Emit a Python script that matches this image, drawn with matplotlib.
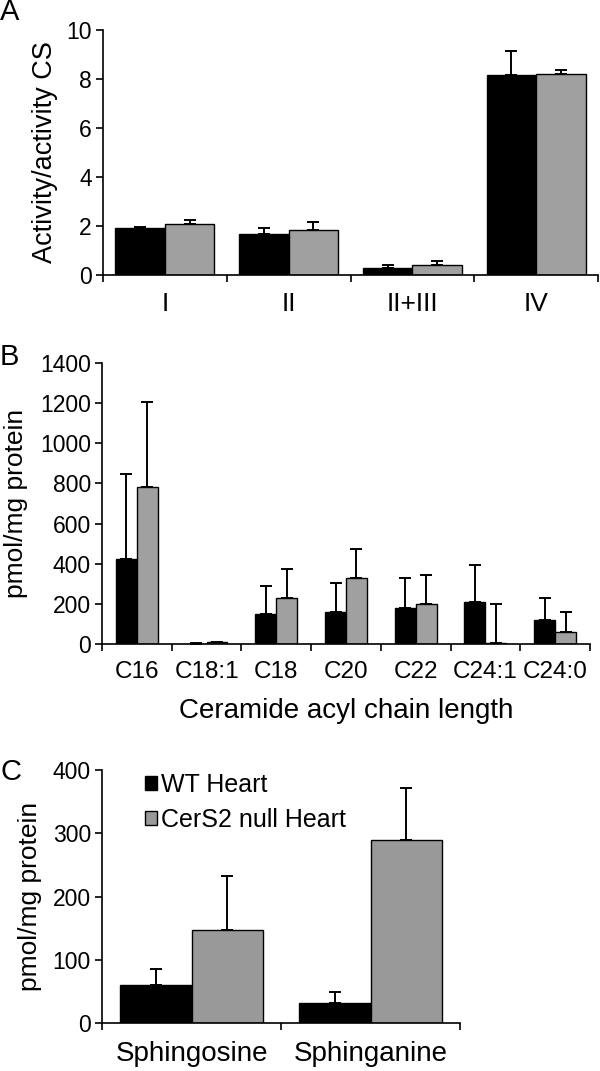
import matplotlib
matplotlib.use("Agg")
import matplotlib.pyplot as plt
from matplotlib.patches import Patch
import numpy as np

plt.rcParams['font.family'] = ['Liberation Sans', 'DejaVu Sans']

# ── Panel A: complex activity relative to citrate synthase ──
a_cats = ['I', 'II', 'II+III', 'IV']
a_wt = [1.90, 1.66, 0.30, 8.16]
a_wt_err = [0.05, 0.26, 0.11, 0.98]
a_null = [2.08, 1.85, 0.41, 8.19]
a_null_err = [0.16, 0.33, 0.18, 0.16]

# ── Panel B: ceramide species ──
b_cats = ['C16', 'C18:1', 'C18', 'C20', 'C22', 'C24:1', 'C24:0']
b_wt = [421, 2, 148, 159, 179, 207, 121]
b_wt_err = [427, 1, 139, 146, 150, 188, 110]
b_null = [782, 8, 231, 327, 201, 3, 58]
b_null_err = [426, 4, 144, 144, 144, 198, 103]

# ── Panel C: sphingoid bases ──
c_cats = ['Sphingosine', 'Sphinganine']
c_wt = [60, 32]
c_wt_err = [25, 17]
c_null = [147, 289]
c_null_err = [86, 83]

BLACK = '#000000'
GRAY = '#a0a0a0'
GRAY_C = '#999999'
TICK_Y = 16.5


def draw_panel(ax, cats, wt, wt_err, null, null_err, width, gray, ymax, ystep, xsize, xpad):
    x = np.arange(len(cats))
    xl = x - width / 2
    xr = x + width / 2
    ax.bar(xl, wt, width, color=BLACK, edgecolor='black', linewidth=1.0, zorder=2)
    ax.bar(xr, null, width, color=gray, edgecolor='black', linewidth=1.0, zorder=2)
    for xs, v, e in [(xl, wt, wt_err), (xr, null, null_err)]:
        ax.errorbar(xs, v, yerr=[np.zeros(len(v)), e], fmt='none', ecolor='black',
                    elinewidth=1.4, capsize=4.5, capthick=1.4, zorder=3)
    ax.set_xlim(-0.5, len(cats) - 0.5)
    ax.set_ylim(0, ymax)
    ax.set_yticks(np.arange(0, ymax + 1e-9, ystep))
    ax.set_xticks(x)
    ax.set_xticklabels(cats, fontsize=xsize)
    ax.set_xticks(np.arange(-0.5, len(cats), 1.0), minor=True)
    ax.tick_params(axis='x', which='major', length=0, pad=xpad)
    ax.tick_params(axis='x', which='minor', length=5, width=1.2, direction='out')
    ax.tick_params(axis='y', length=5, width=1.2, direction='out', labelsize=TICK_Y, pad=3)
    for s in ['top', 'right']:
        ax.spines[s].set_visible(False)
    for s in ['left', 'bottom']:
        ax.spines[s].set_linewidth(1.2)
    ax.yaxis.label.set_verticalalignment('center')


fig = plt.figure(figsize=(6.0, 10.71), dpi=100)

axA = fig.add_axes([0.1717, 0.7432, 0.825, 0.2288])
draw_panel(axA, a_cats, a_wt, a_wt_err, a_null, a_null_err, 0.4, GRAY, 10, 2, 19, 12)
axA.set_ylabel('Activity/activity CS', fontsize=19.5)
axA.yaxis.set_label_coords(-0.117, 0.5)

axB = fig.add_axes([0.17, 0.3987, 0.8133, 0.2624])
draw_panel(axB, b_cats, b_wt, b_wt_err, b_null, b_null_err, 0.3, GRAY, 1400, 200, 17.5, 12)
axB.set_ylabel('pmol/mg protein', fontsize=19)
axB.yaxis.set_label_coords(-0.176, 0.5)
axB.set_xlabel('Ceramide acyl chain length', fontsize=20)
axB.xaxis.label.set_verticalalignment('center')
axB.xaxis.set_label_coords(0.5, -0.24)

axC = fig.add_axes([0.17, 0.0448, 0.597, 0.2362])
draw_panel(axC, c_cats, c_wt, c_wt_err, c_null, c_null_err, 0.4, GRAY_C, 400, 100, 20, 13)
axC.set_ylabel('pmol/mg protein', fontsize=19)
axC.yaxis.set_label_coords(-0.2, 0.5)
handles = [Patch(facecolor=BLACK, edgecolor='black', label='WT Heart'),
           Patch(facecolor=GRAY_C, edgecolor='black', label='CerS2 null Heart')]
axC.legend(handles=handles, loc='upper left', bbox_to_anchor=(0.12, 0.99), frameon=False,
           fontsize=18, handlelength=0.5, handleheight=0.5, handletextpad=0.15,
           labelspacing=0.45, borderpad=0, borderaxespad=0)

for lbl, y in [('A', 12), ('B', 357), ('C', 772)]:
    fig.text(0.0, 1 - y / 1071, lbl, fontsize=21, va='center', ha='left')

fig.savefig('out.png', dpi=100)
